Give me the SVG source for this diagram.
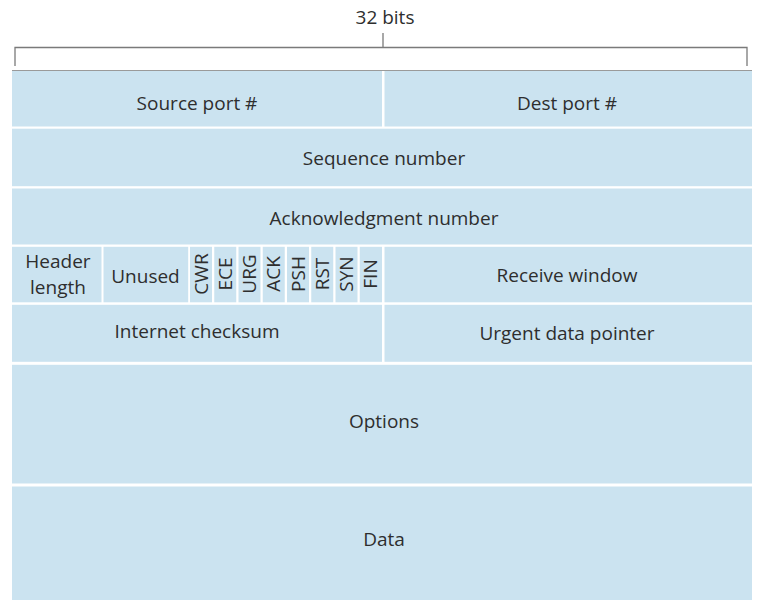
<svg xmlns="http://www.w3.org/2000/svg" width="775" height="607" viewBox="0 0 775 607">
<style>
.cell{fill:#cbe3f0;}
.t{font-family:"Open Sans","Noto Sans","Liberation Sans",sans-serif;font-size:19px;fill:#2e2e2e;text-anchor:middle;}
.br{fill:none;stroke:#7a7a7a;stroke-width:1.3;}
</style>
<rect x="0" y="0" width="775" height="607" fill="#ffffff"/>
<g id="bracket">
<path class="br" d="M15,66 V47.5 H747 V66 M383,47.5 V33"/>
<text class="t" x="385" y="24">32 bits</text>
</g>
<line x1="12" y1="70.5" x2="752" y2="70.5" stroke="#9a9a9a" stroke-width="1"/>
<g id="source-port"><rect class="cell" x="12" y="71" width="370" height="55.5"/><text class="t" x="197" y="110">Source port #</text></g>
<g id="dest-port"><rect class="cell" x="384.5" y="71" width="367.5" height="55.5"/><text class="t" x="567" y="110">Dest port #</text></g>
<g id="sequence-number"><rect class="cell" x="12" y="128.7" width="740" height="57.5"/><text class="t" x="384" y="165">Sequence number</text></g>
<g id="ack-number"><rect class="cell" x="12" y="188.5" width="740" height="56"/><text class="t" x="384" y="225">Acknowledgment number</text></g>
<g id="header-length"><rect class="cell" x="12" y="246.8" width="89.5" height="55.5"/><text class="t" x="58" y="268" font-size="18.5">Header</text><text class="t" x="58" y="294" font-size="18.5">length</text></g>
<g id="unused"><rect class="cell" x="103.5" y="246.8" width="84.7" height="55.5"/><text class="t" x="145.5" y="283">Unused</text></g>
<g id="flag-cwr"><rect class="cell" x="190" y="246.8" width="22" height="55.5"/><text class="t" x="207.5" y="274" transform="rotate(-90 207.5 274)">CWR</text></g>
<g id="flag-ece"><rect class="cell" x="214.25" y="246.8" width="22" height="55.5"/><text class="t" x="231.75" y="274" transform="rotate(-90 231.75 274)">ECE</text></g>
<g id="flag-urg"><rect class="cell" x="238.5" y="246.8" width="22" height="55.5"/><text class="t" x="256" y="274" transform="rotate(-90 256 274)">URG</text></g>
<g id="flag-ack"><rect class="cell" x="262.75" y="246.8" width="22" height="55.5"/><text class="t" x="280.25" y="274" transform="rotate(-90 280.25 274)">ACK</text></g>
<g id="flag-psh"><rect class="cell" x="287" y="246.8" width="22" height="55.5"/><text class="t" x="304.5" y="274" transform="rotate(-90 304.5 274)">PSH</text></g>
<g id="flag-rst"><rect class="cell" x="311.25" y="246.8" width="22" height="55.5"/><text class="t" x="328.75" y="274" transform="rotate(-90 328.75 274)">RST</text></g>
<g id="flag-syn"><rect class="cell" x="335.5" y="246.8" width="22" height="55.5"/><text class="t" x="353" y="274" transform="rotate(-90 353 274)">SYN</text></g>
<g id="flag-fin"><rect class="cell" x="359.75" y="246.8" width="22.25" height="55.5"/><text class="t" x="377.25" y="274" transform="rotate(-90 377.25 274)">FIN</text></g>
<g id="receive-window"><rect class="cell" x="384.5" y="246.8" width="367.5" height="55.5"/><text class="t" x="567" y="282">Receive window</text></g>
<g id="internet-checksum"><rect class="cell" x="12" y="304.8" width="370" height="57"/><text class="t" x="197" y="338">Internet checksum</text></g>
<g id="urgent-pointer"><rect class="cell" x="384.5" y="304.8" width="367.5" height="57"/><text class="t" x="567" y="340">Urgent data pointer</text></g>
<g id="options"><rect class="cell" x="12" y="364.8" width="740" height="118.7"/><text class="t" x="384" y="428">Options</text></g>
<g id="data"><rect class="cell" x="12" y="486.5" width="740" height="113.5"/><text class="t" x="384" y="545.5">Data</text></g>
<g id="connectors"></g>
</svg>
